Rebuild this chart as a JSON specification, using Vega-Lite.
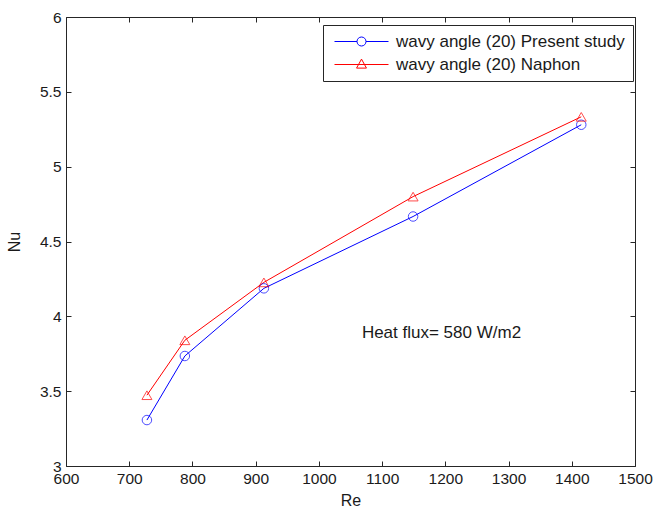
{
  "$schema": "https://vega.github.io/schema/vega-lite/v6.json",
  "width": 569,
  "height": 449,
  "autosize": {"type": "none"},
  "padding": {"left": 66, "top": 17, "right": 19, "bottom": 45},
  "background": "white",
  "config": {
    "font": "Liberation Sans",
    "view": {"stroke": null},
    "axis": {"grid": false, "domainColor": "#262626", "tickColor": "#262626", "labelColor": "#1a1a1a", "titleColor": "#1a1a1a", "labelFont": "Liberation Sans", "titleFont": "Liberation Sans", "labelFontSize": 15.5, "titleFontSize": 16, "titleFontWeight": "normal", "labelOverlap": false, "labelFlush": false, "tickSize": -5}
  },
  "data": {
    "values": [
      {"series": "wavy angle (20) Present study", "Re": 728, "Nu": 3.307},
      {"series": "wavy angle (20) Present study", "Re": 788, "Nu": 3.735},
      {"series": "wavy angle (20) Present study", "Re": 913, "Nu": 4.187},
      {"series": "wavy angle (20) Present study", "Re": 1149, "Nu": 4.667},
      {"series": "wavy angle (20) Present study", "Re": 1415, "Nu": 5.28},
      {"series": "wavy angle (20) Naphon", "Re": 728, "Nu": 3.473},
      {"series": "wavy angle (20) Naphon", "Re": 788, "Nu": 3.84},
      {"series": "wavy angle (20) Naphon", "Re": 913, "Nu": 4.227},
      {"series": "wavy angle (20) Naphon", "Re": 1149, "Nu": 4.8},
      {"series": "wavy angle (20) Naphon", "Re": 1415, "Nu": 5.333}
    ]
  },
  "layer": [
    {
      "mark": {"type": "line", "strokeWidth": 1},
      "encoding": {
        "x": {"field": "Re", "type": "quantitative", "scale": {"domain": [600, 1500], "nice": false, "zero": false},
              "axis": {"orient": "bottom", "values": [600,700,800,900,1000,1100,1200,1300,1400,1500], "format": "d", "title": "Re", "labelPadding": 10, "titlePadding": 6}},
        "y": {"field": "Nu", "type": "quantitative", "scale": {"domain": [3, 6], "nice": false, "zero": false},
              "axis": {"orient": "left", "values": [3,3.5,4,4.5,5,5.5,6], "format": ".1~f", "title": "Nu", "labelPadding": 10, "titlePadding": 17}},
        "color": {"field": "series", "type": "nominal",
          "scale": {"domain": ["wavy angle (20) Present study", "wavy angle (20) Naphon"], "range": ["#0000ff", "#ff0000"]},
          "legend": {
            "orient": "none", "legendX": 257, "legendY": 8, "title": null,
            "strokeColor": "#262626", "fillColor": "white", "padding": 8,
            "labelFont": "Liberation Sans", "labelFontSize": 17, "labelColor": "#1a1a1a", "labelLimit": 500,
            "symbolSize": 81, "symbolStrokeWidth": 1, "symbolOffset": 22, "labelOffset": 26, "rowPadding": 5,
            "encode": {"symbols": {"update": {
              "shape": {"signal": "datum.value === 'wavy angle (20) Naphon' ? 'M-6,0H6M0,-1.2L1.1,0.8L-1.1,0.8Z' : 'M-6,0H-1M1,0H6M-1,0A1,1 0 1,0 1,0A1,1 0 1,0 -1,0'"},
              "fill": {"value": "transparent"},
              "stroke": {"signal": "datum.value === 'wavy angle (20) Naphon' ? '#ff0000' : '#0000ff'"}
            }}}
          }
        }
      }
    },
    {
      "transform": [{"filter": "datum.series === 'wavy angle (20) Present study'"}],
      "mark": {"type": "point", "shape": "circle", "filled": false, "strokeWidth": 1, "size": 90},
      "encoding": {
        "x": {"field": "Re", "type": "quantitative", "axis": {"orient": "top", "values": [600,700,800,900,1000,1100,1200,1300,1400,1500], "labels": false, "title": null}},
        "y": {"field": "Nu", "type": "quantitative", "axis": {"orient": "right", "values": [3,3.5,4,4.5,5,5.5,6], "labels": false, "title": null}},
        "color": {"field": "series", "type": "nominal", "legend": null}
      }
    },
    {
      "transform": [{"filter": "datum.series === 'wavy angle (20) Naphon'"}],
      "mark": {"type": "point", "shape": "triangle-up", "filled": false, "strokeWidth": 1, "size": 100},
      "encoding": {
        "x": {"field": "Re", "type": "quantitative", "axis": null},
        "y": {"field": "Nu", "type": "quantitative", "axis": null},
        "color": {"field": "series", "type": "nominal", "legend": null}
      }
    },
    {
      "data": {"values": [{"Re": 1068, "Nu": 3.89, "label": "Heat flux= 580 W/m2"}]},
      "mark": {"type": "text", "align": "left", "baseline": "middle", "font": "Liberation Sans", "fontSize": 17, "color": "#1a1a1a"},
      "encoding": {
        "x": {"field": "Re", "type": "quantitative", "axis": null},
        "y": {"field": "Nu", "type": "quantitative", "axis": null},
        "text": {"field": "label"}
      }
    }
  ],
  "resolve": {"axis": {"x": "independent", "y": "independent"}}
}
